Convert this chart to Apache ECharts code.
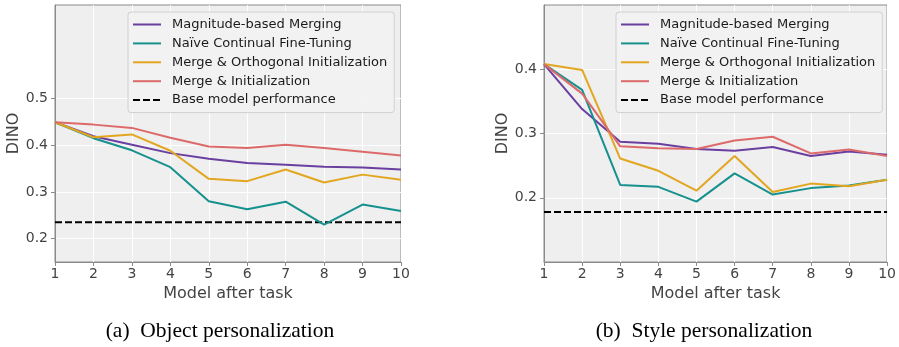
<!DOCTYPE html>
<html>
<head>
<meta charset="utf-8">
<script src="https://cdn.jsdelivr.net/npm/echarts@6/dist/echarts.min.js"></script>
<style>
  html, body { margin: 0; padding: 0; background: #fff; }
  #chart { width: 899px; height: 347px; }
</style>
</head>
<body>
<div id="chart"></div>
<script>
// 横轴：训练到第几个任务后的模型
const tasks = ['1', '2', '3', '4', '5', '6', '7', '8', '9', '10'];
const seriesNames = [
  'Magnitude-based Merging',
  'Naïve Continual Fine-Tuning',
  'Merge & Orthogonal Initialization',
  'Merge & Initialization',
  'Base model performance'
];

// (a) Object personalization
const objMagnitude = [0.449, 0.419, 0.401, 0.383, 0.371, 0.362, 0.358, 0.354, 0.352, 0.348];
const objNaive     = [0.449, 0.415, 0.389, 0.353, 0.280, 0.263, 0.279, 0.230, 0.273, 0.259];
const objOrtho     = [0.449, 0.417, 0.423, 0.388, 0.328, 0.323, 0.348, 0.320, 0.337, 0.326];
const objMergeInit = [0.449, 0.444, 0.437, 0.416, 0.397, 0.394, 0.401, 0.394, 0.386, 0.378];
const objBase = 0.235;
const objTicks = [0.2, 0.3, 0.4, 0.5];

// (b) Style personalization
const styMagnitude = [0.408, 0.338, 0.287, 0.284, 0.276, 0.273, 0.279, 0.265, 0.272, 0.267];
const styNaive     = [0.408, 0.368, 0.220, 0.217, 0.194, 0.238, 0.205, 0.215, 0.219, 0.228];
const styOrtho     = [0.408, 0.399, 0.261, 0.242, 0.211, 0.265, 0.209, 0.222, 0.218, 0.228];
const styMergeInit = [0.408, 0.362, 0.280, 0.277, 0.276, 0.289, 0.295, 0.269, 0.275, 0.265];
const styBase = 0.178;
const styTicks = [0.2, 0.3, 0.4];

const colors = ['#6a3fa0', '#16918e', '#e2a620', '#dd6a6a', '#000000'];
const tickColor = '#444';
const spineColor = '#8a8a8a';

const chart = echarts.init(document.getElementById('chart'));

function makeX(gridIndex) {
  return {
    type: 'category', gridIndex, data: tasks, boundaryGap: false,
    axisLine: { show: true, lineStyle: { color: spineColor, width: 1 } },
    axisTick: { show: true, alignWithLabel: true, length: 4, lineStyle: { color: spineColor } },
    axisLabel: { color: tickColor, fontSize: 14, fontFamily: 'DejaVu Sans', margin: 5 },
    splitLine: { show: true, lineStyle: { color: '#ffffff', width: 1 } },
    name: 'Model after task', nameLocation: 'middle', nameGap: 22,
    nameTextStyle: { color: tickColor, fontSize: 16, fontFamily: 'DejaVu Sans' }
  };
}

function makeY(gridIndex, min, max, ticks) {
  return {
    type: 'value', gridIndex, min, max,
    axisLine: { show: true, lineStyle: { color: spineColor, width: 1 } },
    axisTick: { show: true, length: 4, customValues: ticks, lineStyle: { color: spineColor } },
    axisLabel: { color: tickColor, fontSize: 14, fontFamily: 'DejaVu Sans', margin: 7, customValues: ticks,
      formatter: v => v.toFixed(1) },
    splitLine: { show: true, lineStyle: { color: '#ffffff', width: 1 } },
    name: 'DINO', nameLocation: 'middle', nameGap: 24, nameRotate: 90,
    nameTextStyle: { color: tickColor, fontSize: 16, fontFamily: 'DejaVu Sans' }
  };
}

function makeSeries(idx, values, base) {
  const lists = [...values, tasks.map(() => base)];
  return lists.map((d, i) => ({
    name: seriesNames[i], type: 'line', xAxisIndex: idx, yAxisIndex: idx,
    data: d, symbol: 'none', silent: true, z: i === 4 ? 1 : 2 + i,
    lineStyle: { color: colors[i], width: 2, type: i === 4 ? [7, 3] : 'solid' },
    itemStyle: { color: colors[i] }
  }));
}

function makeLegend(left) {
  return {
    data: seriesNames, orient: 'vertical', left, top: 12,
    padding: [6, 7, 6, 4], itemGap: 5.9, itemWidth: 28, itemHeight: 13,
    backgroundColor: 'rgba(242,242,242,0.9)', borderColor: '#d0d0d0', borderWidth: 1, borderRadius: 3,
    itemStyle: { opacity: 0 },
    textStyle: { color: '#1a1a1a', fontSize: 13, fontFamily: 'DejaVu Sans', padding: [0, 0, 0, 6] },
    selectedMode: false
  };
}

const option = {
  animation: false,
  color: colors,
  grid: [
    { left: 55, top: 5, width: 346, height: 257, show: true, backgroundColor: '#efefef', borderColor: spineColor, borderWidth: 1 },
    { left: 544, top: 5, width: 345, height: 257, show: true, backgroundColor: '#efefef', borderColor: spineColor, borderWidth: 1 }
  ],
  legend: [makeLegend(128), makeLegend(616)],
  xAxis: [makeX(0), makeX(1)],
  yAxis: [makeY(0, 0.15, 0.7, objTicks), makeY(1, 0.1, 0.5, styTicks)],
  series: [
    ...makeSeries(0, [objMagnitude, objNaive, objOrtho, objMergeInit], objBase),
    ...makeSeries(1, [styMagnitude, styNaive, styOrtho, styMergeInit], styBase)
  ],
  graphic: [
    { type: 'text', x: 220, y: 331, style: { text: '(a)  Object personalization', fill: '#000',
      font: '21.5px "Liberation Serif"', textAlign: 'center', textVerticalAlign: 'middle' } },
    { type: 'text', x: 704, y: 331, style: { text: '(b)  Style personalization', fill: '#000',
      font: '21.5px "Liberation Serif"', textAlign: 'center', textVerticalAlign: 'middle' } }
  ]
};

chart.setOption(option);
</script>
</body>
</html>
